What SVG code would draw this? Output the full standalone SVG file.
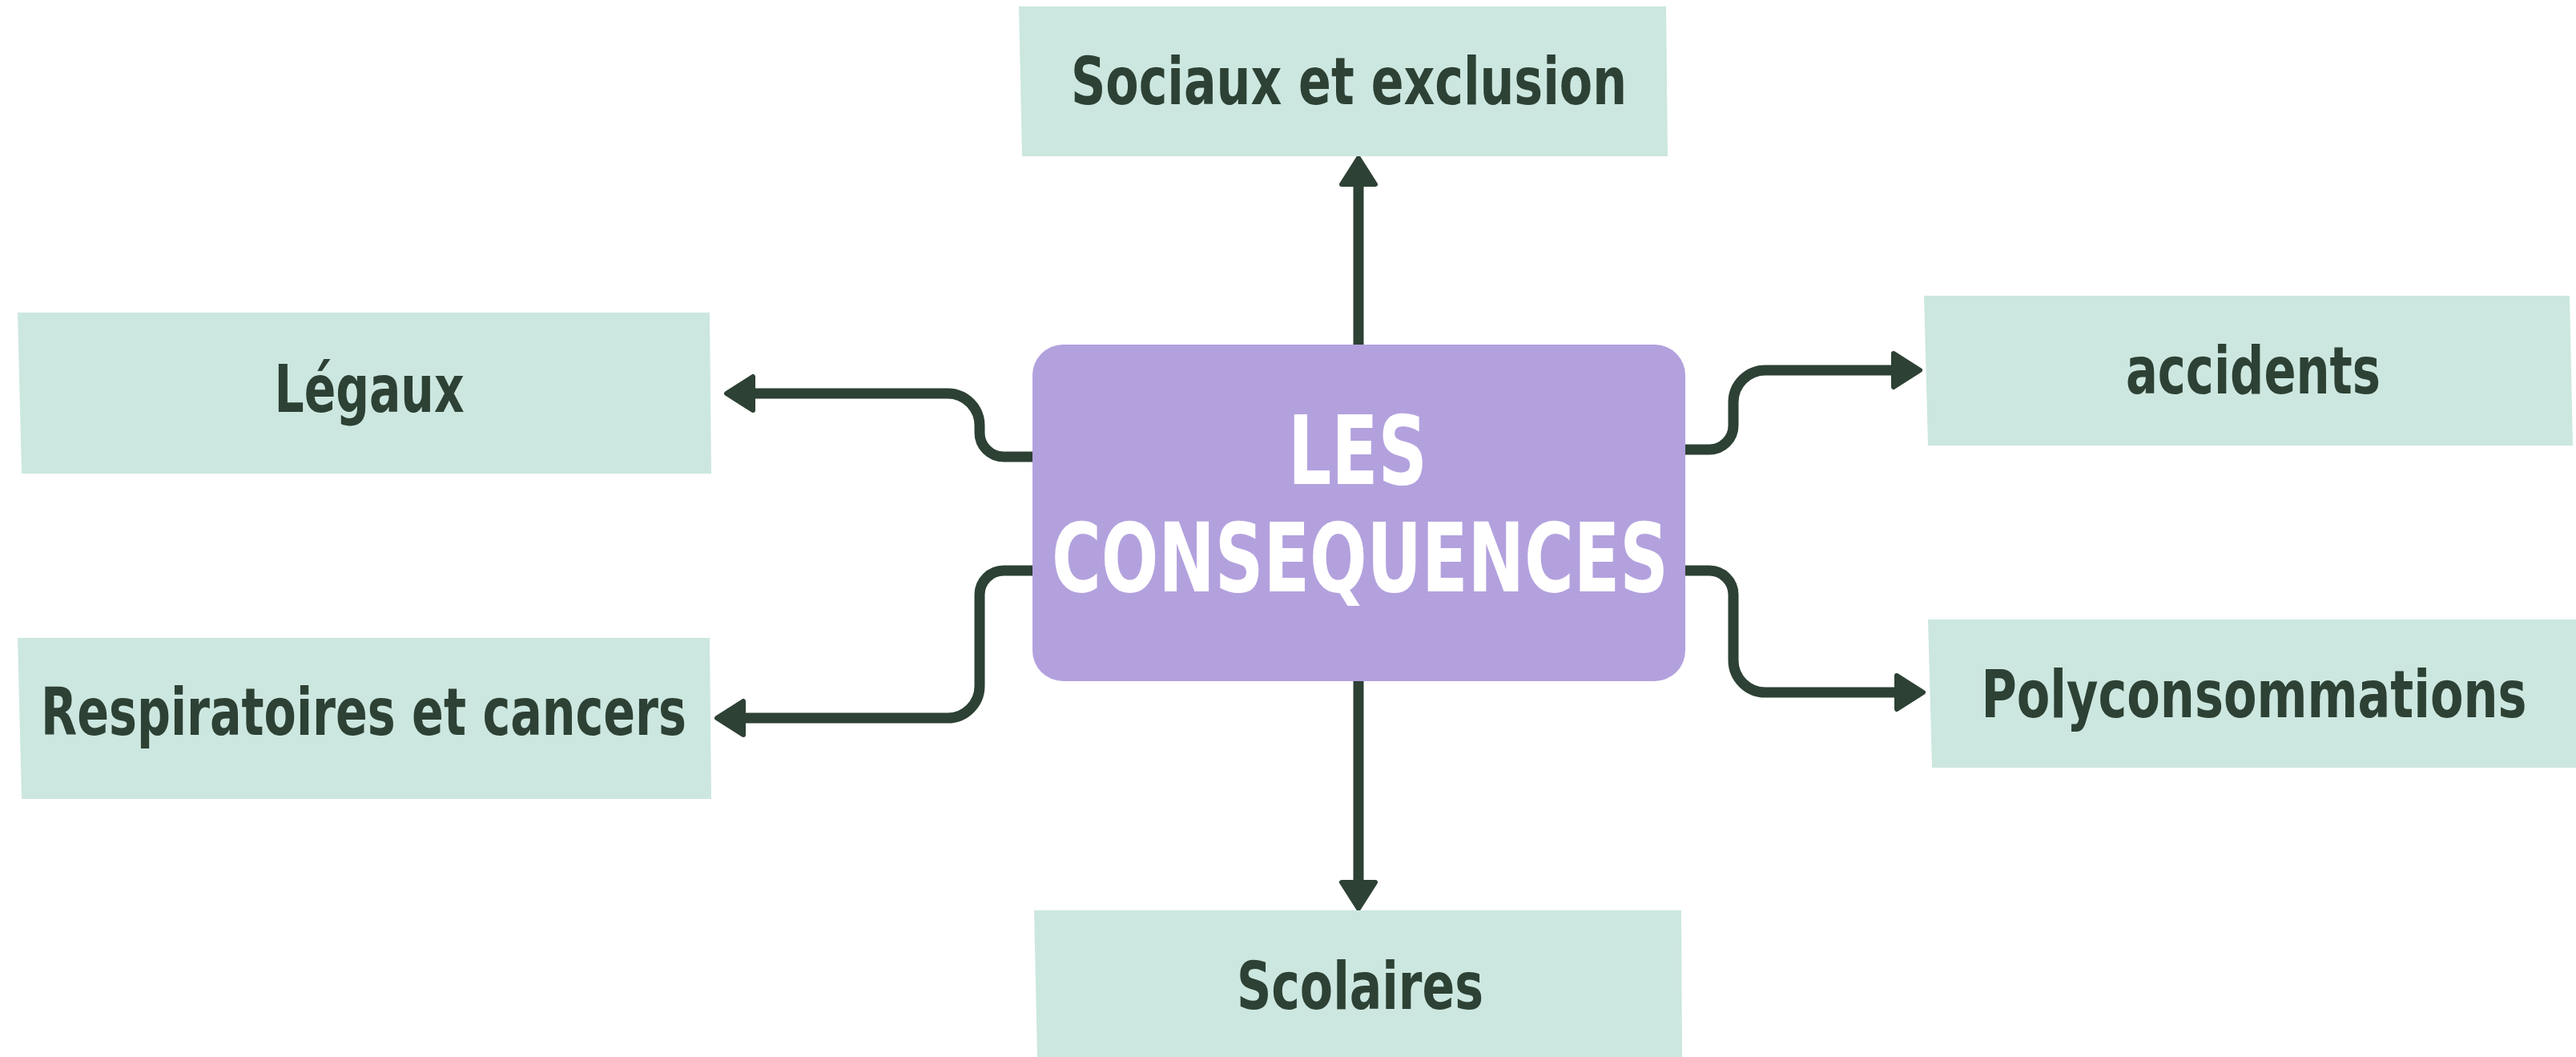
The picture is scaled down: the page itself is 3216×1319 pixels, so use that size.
<svg xmlns="http://www.w3.org/2000/svg" width="3216" height="1319" viewBox="0 0 3216 1319">
  <style>
    .leaf { fill: #CCE7E0; }
    .hub { fill: #B3A1DE; }
    .lbl { font-family: "Liberation Sans Narrow", "DejaVu Sans Condensed", "Liberation Sans", sans-serif; font-weight: bold; font-size: 82px; fill: #2D4134; text-anchor: middle; }
    .hubtxt { font-family: "Liberation Sans Narrow", "DejaVu Sans Condensed", "Liberation Sans", sans-serif; font-weight: bold; font-size: 120px; fill: #FFFFFF; text-anchor: middle; }
    .conn { fill: none; stroke: #2D4134; stroke-width: 13; marker-end: url(#arrow); }
  </style>
  <defs>
    <marker id="arrow" markerUnits="userSpaceOnUse" viewBox="0 0 40 50" refX="1" refY="25" markerWidth="40" markerHeight="50" orient="auto" overflow="visible">
      <path d="M3,4 L36,25 L3,46 Z" fill="#2D4134" stroke="#2D4134" stroke-width="6" stroke-linejoin="round"/>
    </marker>
  </defs>
  <rect width="3216" height="1319" fill="#FFFFFF"/>

  <g id="connectors">
    <path class="conn" d="M1696,430 V232"/>
    <path class="conn" d="M1696,850 V1099"/>
    <path class="conn" d="M1289,570 H1253 A30 30 0 0 1 1223 540 V531 A40 40 0 0 0 1183 491 H942"/>
    <path class="conn" d="M1289,712 H1253 A30 30 0 0 0 1223 742 V856 A40 40 0 0 1 1183 896 H930"/>
    <path class="conn" d="M2104,561 H2134 A30 30 0 0 0 2164 531 V502 A40 40 0 0 1 2204 462 H2362"/>
    <path class="conn" d="M2104,712 H2134 A30 30 0 0 1 2164 742 V824 A40 40 0 0 0 2204 864 H2366"/>
  </g>

  <g id="node-center">
    <rect class="hub" x="1289" y="430" width="815" height="420" rx="38" ry="38"/>
    <text class="hubtxt" x="1695" y="604" textLength="174" lengthAdjust="spacingAndGlyphs">LES</text>
    <text class="hubtxt" x="1698" y="738" textLength="770" lengthAdjust="spacingAndGlyphs">CONSEQUENCES</text>
  </g>

  <g id="node-sociaux">
    <polygon class="leaf" points="1272,8 2080,8 2082,195 1276,195"/>
    <text class="lbl" x="1684" y="130" textLength="694" lengthAdjust="spacingAndGlyphs">Sociaux et exclusion</text>
  </g>

  <g id="node-legaux">
    <polygon class="leaf" points="22,390 886,390 888,591 27,591"/>
    <text class="lbl" x="461" y="514" textLength="237" lengthAdjust="spacingAndGlyphs">Légaux</text>
  </g>

  <g id="node-respiratoires">
    <polygon class="leaf" points="22,796 886,796 888,997 27,997"/>
    <text class="lbl" x="454" y="917" textLength="806" lengthAdjust="spacingAndGlyphs">Respiratoires et cancers</text>
  </g>

  <g id="node-accidents">
    <polygon class="leaf" points="2402,369 3208,369 3212,556 2407,556"/>
    <text class="lbl" x="2813" y="491" textLength="318" lengthAdjust="spacingAndGlyphs">accidents</text>
  </g>

  <g id="node-poly">
    <polygon class="leaf" points="2407,773 3216,773 3216,958 2412,958"/>
    <text class="lbl" x="2814" y="895" textLength="681" lengthAdjust="spacingAndGlyphs">Polyconsommations</text>
  </g>

  <g id="node-scolaires">
    <polygon class="leaf" points="1291,1136 2099,1136 2100,1319 1295,1319"/>
    <text class="lbl" x="1698" y="1259" textLength="308" lengthAdjust="spacingAndGlyphs">Scolaires</text>
  </g>
</svg>
